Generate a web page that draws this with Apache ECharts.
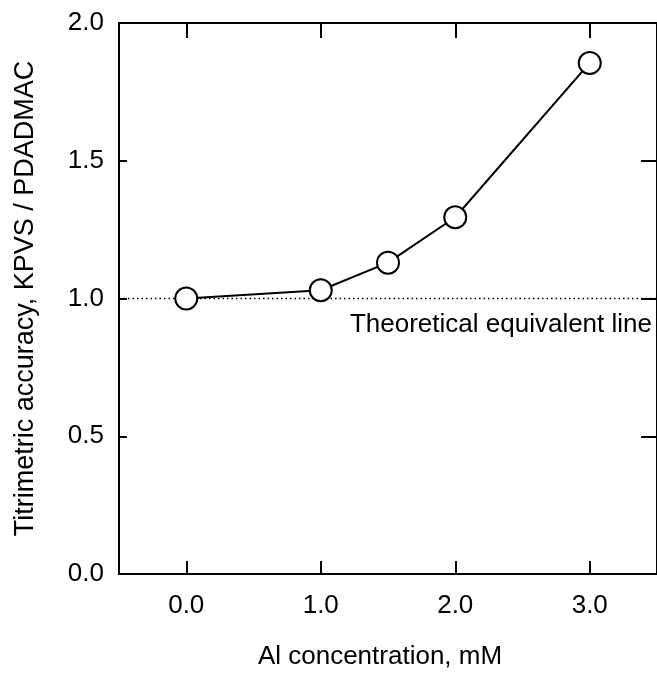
<!DOCTYPE html>
<html>
<head>
    <meta charset="utf-8">
    <script src="https://cdn.jsdelivr.net/npm/echarts@6/dist/echarts.min.js"></script>
    <style>
        html, body { margin: 0; padding: 0; background: #fff; }
        #chart { width: 657px; height: 675px; }
    </style>
</head>
<body>
    <div id="chart"></div>
    <script type="text/javascript">
        // measured points
        var alConc = [0.0, 1.0, 1.5, 2.0, 3.0];
        var accuracy = [1.00, 1.03, 1.13, 1.295, 1.855];
        // theoretical line (ratio = 1)
        var refX = [-0.5, 3.5];
        var refY = [1.0, 1.0];
        var xTicks = [0, 1, 2, 3];

        var font = 'Liberation Sans, Arial, sans-serif';

        function pairs(xs, ys) {
            var out = [];
            for (var i = 0; i < xs.length; i++) out.push([xs[i], ys[i]]);
            return out;
        }

        var xBase = {
            type: 'value', min: -0.5, max: 3.5,
            splitLine: {show: false},
            axisLine: {onZero: false, lineStyle: {color: '#000', width: 2}},
            axisTick: {inside: true, length: 13, customValues: xTicks, lineStyle: {color: '#000', width: 2}}
        };
        var yBase = {
            type: 'value', min: 0, max: 2, interval: 0.5,
            splitLine: {show: false},
            axisLine: {onZero: false, lineStyle: {color: '#000', width: 2}},
            axisTick: {inside: true, length: 8, lineStyle: {color: '#000', width: 2}}
        };

        var option = {
            animation: false,
            backgroundColor: '#fff',
            grid: {left: 119, right: -8, top: 23, bottom: 97},
            xAxis: [
                Object.assign({}, xBase, {
                    position: 'bottom',
                    name: 'Al concentration, mM',
                    nameLocation: 'middle',
                    nameGap: 70,
                    nameTextStyle: {fontFamily: font, fontSize: 26, color: '#000', padding: [0, 16, 0, 0]},
                    axisLabel: {
                        customValues: xTicks, margin: 19,
                        fontFamily: font, fontSize: 26, color: '#000',
                        formatter: function (v) { return v.toFixed(1); }
                    }
                }),
                Object.assign({}, xBase, {
                    position: 'top',
                    axisTick: {inside: true, length: 15, customValues: xTicks, lineStyle: {color: '#000', width: 2}},
                    axisLabel: {show: false}
                })
            ],
            yAxis: [
                Object.assign({}, yBase, {
                    position: 'left',
                    name: 'Titrimetric accuracy, KPVS / PDADMAC',
                    nameLocation: 'middle',
                    nameGap: 80,
                    nameTextStyle: {fontFamily: font, fontSize: 27, color: '#000'},
                    axisLabel: {
                        margin: 15, fontFamily: font, fontSize: 26, color: '#000',
                        formatter: function (v) { return v.toFixed(1); }
                    }
                }),
                Object.assign({}, yBase, {
                    position: 'right',
                    axisTick: {inside: true, length: 16, lineStyle: {color: '#000', width: 2}},
                    axisLabel: {show: false}
                })
            ],
            graphic: [{
                type: 'text', right: 5, top: 312,
                style: {text: 'Theoretical equivalent line', fontFamily: font, fontSize: 26, fill: '#000'}
            }],
            series: [
                {
                    type: 'line',
                    data: pairs(refX, refY),
                    symbol: 'none',
                    lineStyle: {color: '#000', width: 1.6, type: [1.5, 3]},
                    z: 1
                },
                {
                    type: 'line',
                    data: pairs(alConc, accuracy),
                    symbol: 'circle',
                    symbolSize: 22,
                    itemStyle: {color: '#fff', borderColor: '#000', borderWidth: 2},
                    lineStyle: {color: '#000', width: 2},
                    z: 3
                }
            ]
        };

        var myChart = echarts.init(document.getElementById('chart'));
        myChart.setOption(option);
    </script>
</body>
</html>
